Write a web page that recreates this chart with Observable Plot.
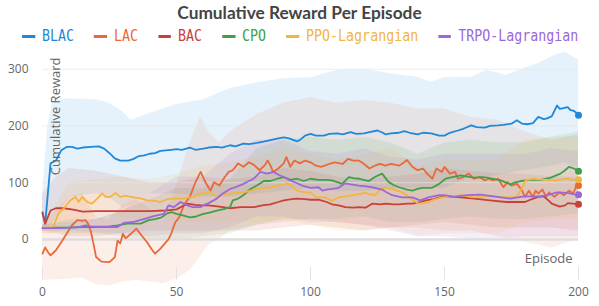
<!DOCTYPE html>
<html><head><meta charset="utf-8">
<script src="https://cdn.jsdelivr.net/npm/d3@7"></script>
<script src="https://cdn.jsdelivr.net/npm/@observablehq/plot@0.6"></script>
<style>
body{margin:0;background:#fff;}
#wrap{position:relative;width:599px;height:306px;overflow:hidden;font-family:"Open Sans",sans-serif;}
#title{position:absolute;top:3px;left:0;width:599px;text-align:center;font:700 17.3px Lato,sans-serif;color:#444;line-height:20px;}
#legend{position:absolute;top:26px;left:22px;height:20px;display:flex;align-items:center;font:15px "DejaVu Sans Mono",monospace;white-space:nowrap;transform:scaleX(0.886);transform-origin:0 50%;}
.item{display:flex;align-items:center;margin-right:22.6px;}
.sw{width:14.7px;height:3px;margin-right:7.9px;}
#chart{position:absolute;top:46px;left:0;}
</style></head>
<body>
<div id="wrap">
  <div id="title">Cumulative Reward Per Episode</div>
  <div id="legend"></div>
  <div id="chart"></div>
</div>
<script>
const names = ["BLAC","LAC","BAC","CPO","PPO-Lagrangian","TRPO-Lagrangian"];
const colors = ["#1f88d8","#e8693a","#c9403b","#40a048","#f2b540","#9a68d8"];
const xTicks = [0,50,100,150,200];
const yTicks = [0,100,200,300];

// [episode, value]
const blac = [[0,48],[1,28],[3,134],[5,139],[7,157],[9,163],[11,163],[13,160],[15,162],[18,163],[21,164],[23,160],[25,152],[27,143],[29,139],[32,139],[34,142],[36,147],[38,148],[40,151],[42,152],[44,156],[46,157],[48,158],[50,159],[52,158],[55,162],[57,158],[60,160],[62,162],[65,163],[67,162],[70,166],[72,164],[75,169],[77,168],[80,170],[82,172],[85,175],[88,178],[90,180],[92,178],[95,173],[96,175],[98,183],[100,186],[102,183],[105,183],[107,186],[110,187],[112,185],[115,189],[117,186],[120,187],[122,189],[125,192],[127,188],[128,185],[130,187],[133,188],[135,191],[137,188],[140,185],[142,188],[145,187],[148,183],[150,183],[152,188],[155,192],[157,195],[160,201],[162,198],[165,197],[167,200],[170,201],[172,202],[175,204],[177,210],[179,204],[181,203],[183,205],[185,216],[187,212],[188,213],[190,217],[192,236],[193,230],[194,231],[196,233],[197,228],[198,227],[199,224],[200,219]];
const lac = [[0,-25],[1,-14],[2,-22],[3,-28],[5,-19],[7,-5],[9,10],[11,25],[13,34],[15,33],[16,34],[17,28],[18,15],[19,-7],[20,-31],[22,-39],[25,-40],[27,-31],[28,-2],[29,-7],[30,10],[31,2],[33,10],[35,19],[37,7],[39,-5],[41,-19],[42,-25],[44,-16],[46,-5],[47,0],[48,10],[49.5,30],[51,39],[53,63],[55,75],[57,100],[59,119],[61,99],[62.7,86],[64,101],[66,95],[68,110],[69.5,119],[71,122],[73,134],[75,128],[77,136],[79,131],[81,122],[83,131],[84,139],[85,131],[86,119],[88,125],[90,134],[91,145],[92.5,128],[94,139],[96,134],[98,139],[100,136],[102,130],[104,128],[107,133],[109,136],[112,133],[114,142],[116,139],[118,139],[120,133],[122,125],[124,130],[126,133],[128,130],[130,133],[133,130],[135,136],[136,140],[138,128],[140,122],[142,125],[143.5,116],[145.5,107],[147,125],[149,119],[150,128],[152,116],[154,119],[155,107],[157,110],[159,116],[161,107],[163,110],[165,104],[166.5,107],[168,104],[170,107],[172,92],[173.5,101],[175,95],[177,98],[179,86],[180,75],[181.5,86],[183,75],[184,86],[185,81],[186.5,88],[188,75],[189,83],[191,75],[193,83],[194.5,78],[196.5,86],[198,81],[199,92],[200,95]];
const bac = [[0,46],[1,28],[3,51],[5,55],[8,55],[12,52],[15,49],[20,50],[25,50],[30,50],[34,50],[40,50],[46,51],[50,53],[54,63],[57,61],[59,60],[62,60],[66,58],[70,55],[74,57],[79,57],[82,60],[85,62],[88,66],[90,69],[93,71],[95,72],[98,71],[100,70],[103,70],[106,66],[108,62],[110.5,60],[113,57],[116,56],[118,57],[120.5,56],[123,63],[126,62],[128,63],[131,62],[133,62],[136,63],[138,63],[141,66],[143,69],[146,71],[148,74],[152,76],[156,74],[161,72],[167,69],[173,66],[176,66],[180,66],[182,70],[185,75],[187,76],[189,68],[190,63],[193,58],[195,60],[196,64],[198,63],[200,62]];
const cpo = [[0,20],[5,21],[10,21],[15,22],[20,22],[25,23],[28,25],[31.6,28],[36.6,28],[39.6,34],[42,36],[44.5,39],[46.5,46],[48.3,48],[50,45],[52.7,42],[55,39],[57,40],[60,45],[62,47],[65,51],[68,54],[70,57],[71,69],[73,72],[75,78],[77.6,89],[80,95],[82.6,103],[85,103],[87.6,107],[90,110],[92.5,105],[95,107],[97.5,103],[100,107],[103,105],[106,105],[108,104],[110,101],[111.8,98],[114.3,110],[116,108],[118,107],[121.8,103],[124,110],[126.7,116],[128,108],[129.2,101],[131,96],[133,92],[136,88],[138,86],[140,89],[141.7,91],[145.4,91],[148,98],[150.4,107],[153,110],[156,113],[158,111],[161,109],[164,110],[166,109],[169,106],[171,104],[174.6,97],[176,100],[178.4,103],[182,105],[186,105],[189.6,109],[193.3,116],[195,122],[196.4,128],[198.3,125],[200,120]];
const ppo = [[0,20],[4,22],[6,46],[8,55],[10.4,69],[12.3,75],[13.5,66],[14.8,75],[16.7,66],[18.5,63],[20.4,72],[22.3,81],[23.5,75],[25.4,75],[27.2,82],[29,75],[31,77],[34,74],[37,72],[39,69],[42,68],[44,66],[46,70],[48,72],[52.7,72],[55,74],[56.5,75],[59,81],[62.7,83],[65,75],[67,78],[70,81],[75,83],[78,86],[80,89],[85,92],[88,95],[90,97],[91.3,99],[93,95],[95,86],[98,83],[100,83],[102,75],[105.6,74],[108,68],[110.5,74],[113,76],[115.6,78],[118,80],[120.5,82],[122,80],[124,78],[126.7,91],[130.5,89],[134.2,83],[136,78],[138,70],[140.4,63],[142,64],[144,66],[146,70],[148,73],[152,76],[156,78],[161,74],[167,76],[173.4,74],[177,75],[178.4,86],[180.2,104],[183.3,107],[185,106],[188.3,105],[192,104],[195,107],[198.3,105],[200,105]];
const trpo = [[0,20],[5,20],[10,21],[14,22],[16,25],[18,23],[22,22],[25,22],[28,22],[30.3,29],[34,31],[37.8,36],[41.5,41],[45.3,45],[47,60],[49,57],[51.5,66],[54,60],[56,57],[59,57],[60,60],[62,64],[65,72],[67,80],[70,89],[72,92],[75,98],[77,103],[78.8,107],[81.3,119],[83.8,116],[86.3,119],[88,114],[90,110],[92,105],[95,99],[97,95],[100,91],[103,92],[104.4,86],[106,88],[108,89],[110.5,91],[113,99],[115,97],[118,95],[120,94],[123,92],[126.7,88],[128,84],[130.5,78],[134.2,74],[138,74],[141,69],[144,74],[148,78],[150,78],[153.5,75],[158.5,78],[163.4,79],[168.4,76],[174.6,72],[179.6,76],[186,76],[189,79],[192,83],[195.8,82],[198,80],[200,79]];

// [episode, lower, upper]
const blacBand = [[0,15,80],[2,20,200],[4,30,245],[10,75,248],[20,80,246],[25,75,240],[30,55,225],[33,60,210],[40,80,222],[50,80,238],[60,75,246],[70,75,266],[80,80,276],[90,85,283],[100,90,285],[110,85,298],[120,85,300],[130,90,292],[140,90,286],[145,90,277],[150,90,285],[160,110,286],[166,110,298],[173,115,289],[178,120,298],[185,125,310],[191,130,324],[195,135,330],[200,125,316]];
const lacBand = [[0,-72,25],[10,-70,75],[15,-68,80],[20,-80,40],[25,-82,35],[30,-75,60],[35,-72,70],[40,-75,55],[45,-78,30],[50,-70,95],[55,-55,170],[59,-30,216],[62,-10,190],[66,0,170],[70,15,190],[80,25,220],[90,30,240],[100,35,250],[110,30,240],[120,25,245],[130,20,240],[140,20,230],[150,15,230],[160,15,215],[170,5,210],[180,-5,190],[190,-15,175],[200,0,185]];
const bacBand = [[0,10,80],[5,10,110],[10,5,125],[20,5,120],[30,10,110],[40,15,100],[50,15,100],[60,15,110],[70,15,105],[80,15,110],[90,20,125],[100,25,120],[110,20,110],[120,15,105],[130,20,110],[140,25,115],[150,30,125],[160,25,120],[170,20,115],[180,20,115],[190,20,110],[200,15,110]];
const cpoBand = [[0,15,25],[10,10,35],[20,10,35],[30,5,50],[40,0,70],[50,0,90],[60,5,90],[70,10,105],[80,25,160],[90,35,175],[100,35,180],[110,35,175],[120,40,180],[130,30,170],[140,30,150],[150,35,170],[160,40,175],[170,35,170],[180,35,170],[190,40,180],[200,45,190]];
const ppoBand = [[0,15,25],[5,10,60],[10,30,100],[20,40,105],[30,40,110],[40,35,105],[50,30,115],[60,30,130],[70,30,135],[80,30,145],[90,35,160],[100,25,150],[110,15,140],[120,15,150],[130,20,160],[140,5,130],[150,10,140],[160,10,140],[170,10,140],[180,30,175],[190,35,180],[200,35,180]];
const trpoBand = [[0,15,25],[10,15,30],[20,12,35],[30,10,50],[40,5,80],[50,10,110],[60,10,110],[70,20,150],[80,40,175],[90,40,175],[100,30,155],[110,30,150],[120,25,160],[130,15,145],[140,5,140],[150,5,150],[160,0,150],[170,0,150],[180,5,150],[190,5,160],[200,5,155]];

const seriesData = [blac, lac, bac, cpo, ppo, trpo];
const bands = [blacBand, lacBand, bacBand, cpoBand, ppoBand, trpoBand];

// legend
const legend = document.getElementById("legend");
names.forEach((n, i) => {
  const it = document.createElement("div"); it.className = "item";
  const sw = document.createElement("div"); sw.className = "sw"; sw.style.background = colors[i];
  const tx = document.createElement("span"); tx.textContent = n; tx.style.color = colors[i];
  it.appendChild(sw); it.appendChild(tx); legend.appendChild(it);
});

const chart = Plot.plot({
  width: 599, height: 260,
  marginLeft: 42, marginRight: 21, marginTop: 0, marginBottom: 39,
  style: {fontFamily: "'Open Sans', sans-serif", fontSize: "12px", color: "#666", overflow: "visible", background: "transparent"},
  x: {domain: [0, 200]},
  y: {domain: [-49.4, 340]},
  marks: [
    ...bands.map((b, i) => Plot.areaY(b, {x: d => d[0], y1: d => d[1], y2: d => d[2], fill: colors[i], fillOpacity: 0.11})),
    Plot.ruleY(yTicks.filter(t => t !== 0), {stroke: "#e4e4e4", strokeOpacity: 0.7, strokeWidth: 1}),
    Plot.ruleY([0], {stroke: "#dddddd", strokeWidth: 2.5}),
    ...seriesData.map((s, i) => Plot.lineY(s, {x: d => d[0], y: d => d[1], stroke: colors[i], strokeWidth: 1.8})),
    ...seriesData.map((s, i) => Plot.dot([s[s.length - 1]], {x: d => d[0], y: d => d[1], fill: colors[i], r: 3.5})),
    Plot.axisX({ticks: xTicks, tickSize: 13, tickPadding: 7, stroke: "#e2e2e2", fill: "#666", label: null}),
    Plot.axisY({ticks: yTicks, tickSize: 0, tickPadding: 14, fill: "#666", label: null}),
    Plot.text(["Cumulative Reward"], {frameAnchor: "top-left", dx: 13, dy: 11, rotate: -90, textAnchor: "end", lineAnchor: "middle", fill: "#666", fontSize: 13}),
    Plot.text(["Episode"], {frameAnchor: "bottom-right", dx: -6, dy: -5, textAnchor: "end", fill: "#666", fontSize: 13})
  ]
});
document.getElementById("chart").appendChild(chart);
</script>
</body></html>
